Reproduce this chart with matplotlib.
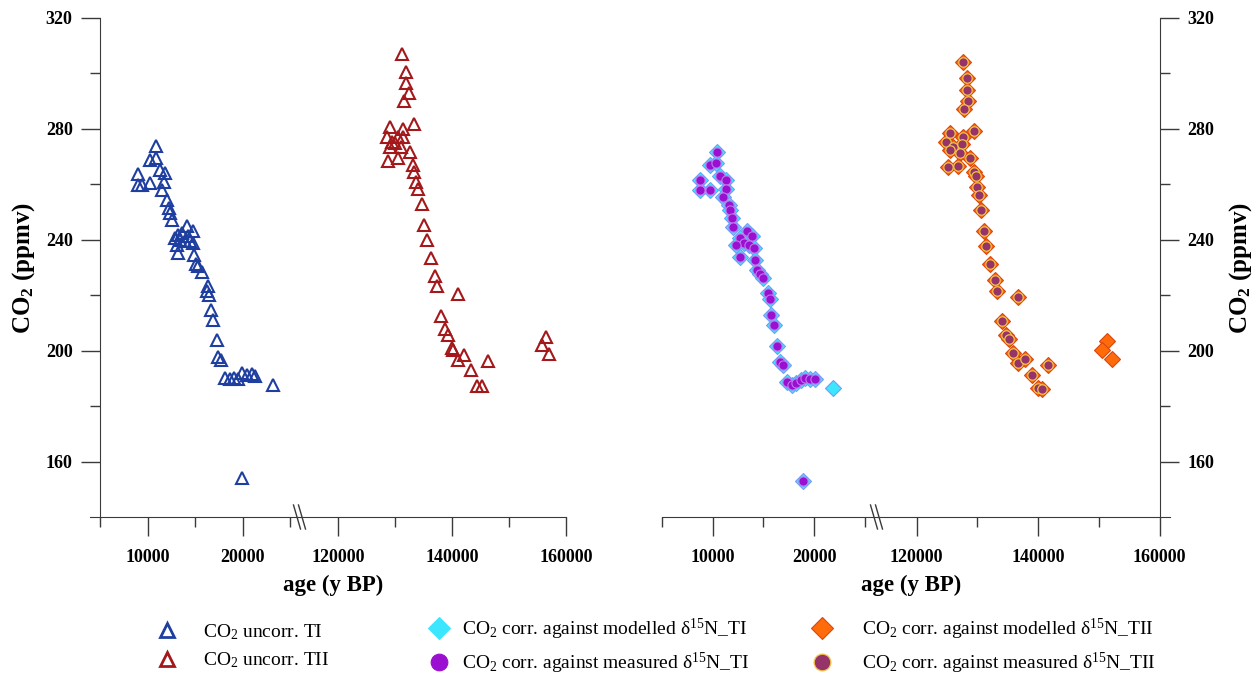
import numpy as np
import matplotlib
matplotlib.use("Agg")
import matplotlib.pyplot as plt
from matplotlib.lines import Line2D

plt.rcParams['font.family'] = ['Liberation Serif', 'DejaVu Serif']
plt.rcParams['mathtext.fontset'] = 'custom'
plt.rcParams['mathtext.rm'] = 'Liberation Serif'
plt.rcParams['mathtext.it'] = 'Liberation Serif:italic'
plt.rcParams['mathtext.bf'] = 'Liberation Serif:bold'

# --- CO2 not corrected, termination I (age y BP, ppmv)
ti_age = [10810, 10200, 10800, 8980, 8980, 9340, 10200, 11260, 11790, 11680,
          11440, 12030, 12240, 12320, 12490, 14070, 14770, 13190, 13540, 14250,
          12840, 13370, 13890, 13020, 14420, 14770, 13190, 14840, 15050, 15300,
          15650, 16350, 16170, 16450, 16600, 16810, 17230, 17400, 17650, 18100,
          18630, 19050, 19500, 19860, 20390, 20920, 21260, 23190, 19920]
ti_co2 = [273.9, 268.6, 269.5, 263.8, 259.8, 259.8, 260.6, 265.2, 264.0, 261.0,
          257.8, 254.4, 251.4, 249.6, 247.2, 244.8, 243.0, 241.8, 242.4, 241.2,
          240.6, 240.0, 239.4, 238.2, 239.4, 238.8, 235.4, 234.6, 231.4, 230.4,
          228.2, 223.2, 221.4, 220.2, 214.5, 211.2, 203.7, 197.7, 196.8, 190.2,
          189.6, 190.2, 189.6, 192.0, 191.4, 191.7, 191.0, 187.7, 154.1]

# --- CO2 not corrected, termination II
tii_age = [131280, 131930, 131930, 132400, 131580, 133330, 129120, 131460, 128540, 130580,
           131350, 129420, 130000, 129120, 131000, 132630, 128710, 130580, 133100, 133330,
           133680, 134090, 134680, 135090, 135560, 136260, 137020, 137310, 141110, 138010,
           138770, 139350, 139940, 140120, 142100, 141110, 146370, 143280, 156490, 155730,
           157070, 144300, 145200]
tii_co2 = [307.0, 300.7, 296.7, 292.9, 289.9, 281.8, 280.6, 279.9, 277.2, 277.0,
           277.0, 275.4, 274.8, 273.6, 273.4, 271.5, 268.5, 269.4, 267.0, 264.6,
           261.0, 258.3, 253.0, 245.4, 240.0, 233.4, 227.0, 223.4, 220.5, 212.4,
           207.8, 205.8, 201.0, 200.1, 198.6, 196.5, 196.1, 192.9, 204.9, 202.2,
           198.9, 187.4, 187.4]

# --- CO2 corrected with d15N, termination I (modelled / measured)
ti_corr_age = [10430, 9770, 10360, 8730, 8790, 9710, 10750, 11340, 11340, 11020,
               11570, 11740, 11900, 12000, 13370, 13860, 12720, 13040, 12320, 13530,
               14090, 12650, 14190, 14410, 14680, 14940, 15490, 15660, 15720, 16050,
               16370, 16640, 16900, 17290, 17780, 18200, 18670, 19090, 19580, 20070,
               21860, 18860]
ti_corr_mod = [271.5, 267.0, 267.6, 261.6, 257.8, 257.8, 263.1, 261.4, 258.3, 255.6,
               252.6, 250.6, 247.8, 244.6, 243.0, 241.4, 240.6, 238.8, 238.2, 238.2,
               237.0, 233.8, 232.8, 229.2, 227.7, 226.2, 220.8, 218.6, 213.0, 209.4,
               201.6, 195.8, 195.0, 188.6, 187.7, 188.3, 189.3, 190.2, 189.6, 189.8,
               186.6, 152.9]
ti_corr_meas = [271.5, 267.0, 267.6, 261.6, 257.8, 257.8, 263.1, 261.4, 258.3, 255.6,
                252.6, 250.6, 247.8, 244.6, 243.0, 241.4, 240.6, 238.8, 238.2, 238.2,
                237.0, 233.8, 232.8, 229.2, 227.7, 226.2, 220.8, 218.6, 213.0, 209.4,
                201.6, 195.8, 195.0, 188.6, 187.7, 188.3, 189.3, 190.2, 189.6, 189.8,
                np.nan, 152.9]

# --- CO2 corrected with d15N, termination II (modelled / measured)
tii_corr_age = [127570, 128230, 128230, 128500, 127840, 129430, 125480, 127670, 124820, 126020,
                127410, 125480, 127130, 128770, 125200, 126850, 129430, 129760, 129980, 130210,
                130630, 131130, 131410, 132070, 132890, 133170, 136730, 133990, 134700, 135250,
                135800, 136730, 137830, 141670, 138930, 140020, 140570, 151330, 150500, 152150]
tii_corr_mod = [304.3, 298.3, 294.1, 290.2, 287.1, 279.4, 278.4, 277.0, 275.4, 273.4,
                274.6, 272.4, 271.2, 269.4, 266.4, 266.7, 264.6, 263.1, 259.2, 256.2,
                250.6, 243.0, 237.8, 231.4, 225.6, 221.4, 219.2, 210.6, 205.8, 204.2,
                199.2, 195.6, 197.0, 195.0, 191.4, 186.6, 186.2, 203.6, 200.4, 197.1]
tii_corr_meas = [304.3, 298.3, 294.1, 290.2, 287.1, 279.4, 278.4, 277.0, 275.4, 273.4,
                 274.6, 272.4, 271.2, 269.4, 266.4, 266.7, 264.6, 263.1, 259.2, 256.2,
                 250.6, 243.0, 237.8, 231.4, 225.6, 221.4, 219.2, 210.6, 205.8, 204.2,
                 199.2, 195.6, 197.0, 195.0, 191.4, 186.6, 186.2, np.nan, np.nan, np.nan]

y_major = [160, 200, 240, 280, 320]
y_minor = [180, 220, 260, 300]
lo_major, lo_minor = [10000, 20000], [5000, 15000, 25000]
hi_major, hi_minor = [120000, 140000, 160000], [130000, 150000]

W, H = 1260, 675
TOP, BOTTOM = 18, 517
AX_COL = '#3a3a3a'

fig = plt.figure(figsize=(W / 100, H / 100), dpi=100)


def px_box(x0, x1):
    return [x0 / W, 1 - BOTTOM / H, (x1 - x0) / W, (BOTTOM - TOP) / H]


def segment(x0, x1, xlim, major, minor):
    ax = fig.add_axes(px_box(x0, x1))
    ax.patch.set_alpha(0)
    ax.set_xlim(*xlim)
    ax.set_ylim(140, 320)
    for side in ax.spines:
        ax.spines[side].set_visible(False)
    ax.spines['bottom'].set_visible(True)
    ax.spines['bottom'].set_color(AX_COL)
    ax.set_xticks(major, [str(v) for v in major])
    ax.set_xticks(minor, minor=True)
    ax.tick_params(axis='x', which='major', length=14, width=1, color=AX_COL,
                   pad=9, labelsize=13)
    ax.tick_params(axis='x', which='minor', length=7, width=1, color=AX_COL)
    ax.set_yticks([])
    plt.setp(ax.get_xticklabels(), fontweight='bold')
    return ax


def y_axis(ax, side, at):
    ax.spines[side].set_visible(True)
    ax.spines[side].set_position(('data', at))
    ax.spines[side].set_color(AX_COL)
    if side == 'right':
        ax.yaxis.tick_right()
    else:
        ax.yaxis.tick_left()
    ax.set_yticks(y_major, [str(v) for v in y_major])
    ax.set_yticks(y_minor, minor=True)
    ax.tick_params(axis='y', which='major', length=14, width=1, color=AX_COL,
                   pad=6, labelsize=13)
    ax.tick_params(axis='y', which='minor', length=7, width=1, color=AX_COL)
    plt.setp(ax.get_yticklabels(), fontweight='bold')


def break_marks(ax_a):
    bx = ax_a.get_position().x1 * W
    for dx in (-3.5, 1.5):
        fig.add_artist(Line2D([(bx + dx - 3) / W, (bx + dx + 4) / W],
                              [1 - (BOTTOM - 12) / H, 1 - (BOTTOM + 12) / H],
                              transform=fig.transFigure, color=AX_COL, lw=1))


tri = dict(ls='none', marker='^', ms=8.5, mfc='none', mew=1.5)
cyan = dict(ls='none', marker='D', ms=7.8, mfc='#3de6ff', mec='#6f9ff5', mew=0.8)
purple = dict(ls='none', marker='o', ms=6.6, mfc='#9a0fd0', mec='#bd78ee', mew=0.8)
orange = dict(ls='none', marker='D', ms=8.4, mfc='#ff6a0a', mec='#d9480f', mew=0.8)
maroon = dict(ls='none', marker='o', ms=6.8, mfc='#963368', mec='#f0c24a', mew=0.9)

# left panel: uncorrected records
l_lo = segment(90, 300, (3900, 26000), lo_major, lo_minor)
l_hi = segment(300, 566, (113330, 160000), hi_major, hi_minor)
y_axis(l_lo, 'left', 5000)
for ax in (l_lo, l_hi):
    ax.plot(ti_age, ti_co2, mec='#1f3fa0', **tri)
    ax.plot(tii_age, tii_co2, mec='#a3191b', **tri)

# right panel: corrected records
r_lo = segment(662, 877, (5000, 26200), lo_major, lo_minor)
r_hi = segment(877, 1170, (113460, 161700), hi_major, hi_minor)
y_axis(r_hi, 'right', 160000)
for ax in (r_lo, r_hi):
    ax.plot(ti_corr_age, ti_corr_mod, **cyan)
    ax.plot(ti_corr_age, ti_corr_meas, **purple)
    ax.plot(tii_corr_age, tii_corr_mod, **orange)
    ax.plot(tii_corr_age, tii_corr_meas, **maroon)

for ax_a in (l_lo, r_lo):
    break_marks(ax_a)

# axis titles
for ax_a, ax_b in ((l_lo, l_hi), (r_lo, r_hi)):
    x0 = ax_a.transData.transform((5000, 0))[0]
    x1 = ax_b.transData.transform((160000, 0))[0]
    fig.text((x0 + x1) / 2 / W, 1 - 585 / H, 'age (y BP)', ha='center', va='center',
             fontsize=16.5, fontweight='bold')
ymid = 1 - (TOP + BOTTOM) / 2 / H
fig.text(24 / W, ymid, r'CO$_\mathbf{2}$ (ppmv)', rotation=90, ha='center', va='center',
         fontsize=18, fontweight='bold')
fig.text(1241 / W, ymid, r'CO$_\mathbf{2}$ (ppmv)', rotation=90, ha='center', va='center',
         fontsize=18, fontweight='bold')

# legend, three columns of two entries
def handle(style, **kw):
    st = dict(style)
    st.update(kw)
    return Line2D([], [], **st)


columns = [
    (155, 1.25, [handle(tri, mec='#1f3fa0', ms=10, mew=2), handle(tri, mec='#a3191b', ms=10, mew=2)],
     [r'CO$_\mathregular{2}$ uncorr. TI', r'CO$_\mathregular{2}$ uncorr. TII']),
    (427, 0.6, [handle(cyan, ms=11, mec='#3de6ff'), handle(purple, ms=12, mec='#9a0fd0')],
     [r'CO$_\mathregular{2}$ corr. against modelled δ$^\mathregular{15}$N_TI',
      r'CO$_\mathregular{2}$ corr. against measured δ$^\mathregular{15}$N_TI']),
    (810, 1.45, [handle(orange, ms=11), handle(maroon, ms=12)],
     [r'CO$_\mathregular{2}$ corr. against modelled δ$^\mathregular{15}$N_TII',
      r'CO$_\mathregular{2}$ corr. against measured δ$^\mathregular{15}$N_TII']),
]
for left, pad, hs, labels in columns:
    fig.legend(hs, labels, loc='center left', bbox_to_anchor=(left / W, 1 - 646 / H),
               frameon=False, fontsize=14, handlelength=1.2, handletextpad=pad,
               borderpad=0, borderaxespad=0, labelspacing=0.45)

fig.savefig('out.png', dpi=100, facecolor='white')
